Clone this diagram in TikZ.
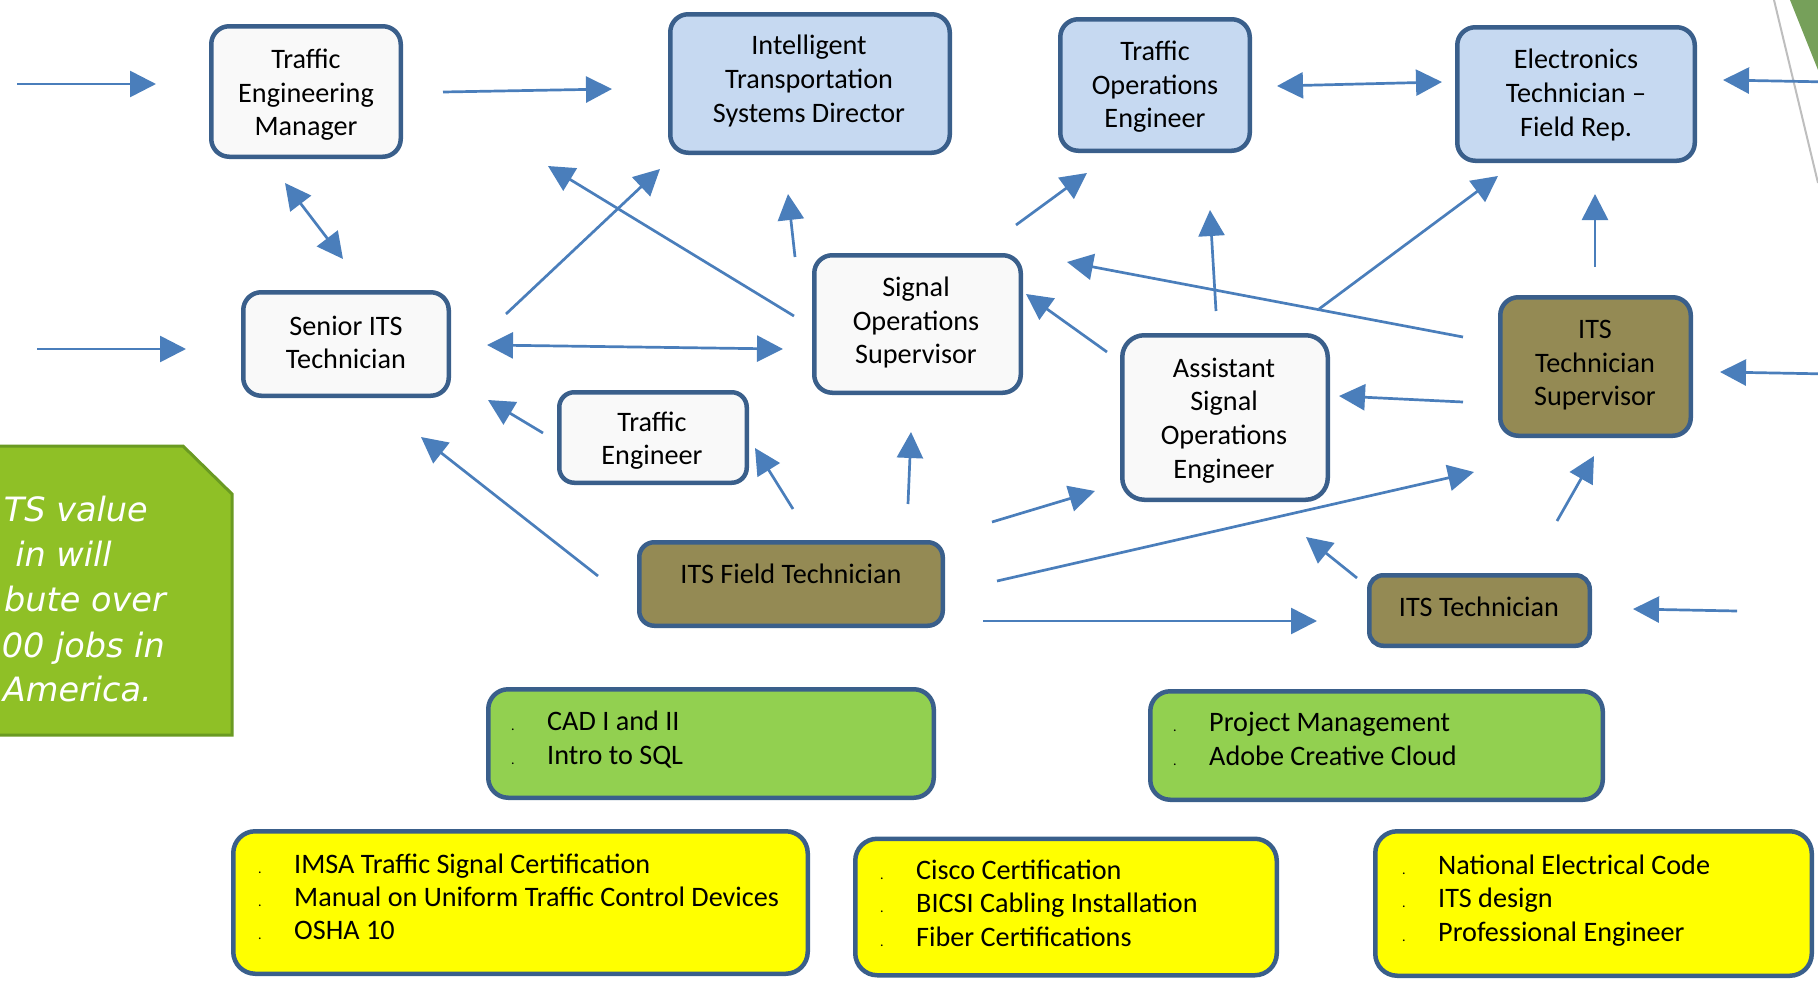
\documentclass[tikz,border=0pt]{standalone}
\usepackage{fontspec}
\setmainfont{Carlito}
\newfontfamily\promofont{DejaVu Sans}
\usetikzlibrary{arrows.meta}
\definecolor{arrowblue}{RGB}{74,126,187}
\definecolor{boxborder}{RGB}{58,95,139}
\definecolor{boxwhite}{RGB}{249,249,249}
\definecolor{boxblue}{RGB}{198,217,241}
\definecolor{boxbrown}{RGB}{148,138,84}
\definecolor{boxgreen}{RGB}{146,208,80}
\definecolor{boxyellow}{RGB}{255,255,0}
\definecolor{promofill}{RGB}{143,192,38}
\definecolor{promoedge}{RGB}{106,154,34}
\definecolor{cornergreen}{RGB}{118,160,90}
\definecolor{cornergray}{RGB}{190,190,190}
\tikzset{
  box/.style={draw=boxborder, line width=4.5pt, rounded corners=18pt, inner sep=0pt},
  lbl/.style={font=\fontsize{28.2}{33.6}\selectfont, align=center, inner sep=0pt},
  itemtxt/.style={font=\fontsize{28.2}{33.6}\selectfont, inner sep=0pt, anchor=base west},
  promotxt/.style={font=\promofont\itshape\fontsize{33.5}{45}\selectfont, text=white, inner sep=0pt, anchor=base east},
  conn/.style={draw=arrowblue, line width=2.7pt, -{Triangle[length=26pt,width=26pt]}},
  conn2/.style={draw=arrowblue, line width=2.7pt, {Triangle[length=26pt,width=26pt]}-{Triangle[length=26pt,width=26pt]}}
}
\newcommand\bdot{\makebox[36pt][l]{\fontsize{14}{14}\selectfont .}}
\begin{document}
\begin{tikzpicture}[x=1pt,y=-1pt]
\useasboundingbox (0,0) rectangle (1818,980);
% corner decoration
\fill[cornergreen] (1790,0) -- (1830,0) -- (1830,100) -- cycle;
\draw[cornergray, line width=2pt] (1774,0) -- (1818,183);
% promo panel
\draw[line width=3pt, draw=promoedge, fill=promofill] (-10,446) -- (183,446) -- (232,494) -- (232,735) -- (-10,735) -- cycle;
\node[promotxt] (p1) at (148,521) {TS value};
\node[promotxt] (p2) at (112,566) {in will};
\node[promotxt] (p3) at (166,611) {bute over};
\node[promotxt] (p4) at (165,657) {00 jobs in};
\node[promotxt] (p5) at (152,701) {America.};

% boxes
\node[box, fill=boxwhite, minimum width=189.5pt, minimum height=130.5pt] (tem) at (306,91.5) {};
\node[box, fill=boxwhite, minimum width=205.5pt, minimum height=103.5pt] (sen) at (346,344) {};
\node[box, fill=boxblue, minimum width=279.5pt, minimum height=138.5pt] (dir) at (810,83.5) {};
\node[box, fill=boxblue, minimum width=189.5pt, minimum height=131.5pt] (toe) at (1155,85) {};
\node[box, fill=boxblue, minimum width=237.5pt, minimum height=133.5pt] (etf) at (1576,94) {};
\node[box, fill=boxwhite, minimum width=206.5pt, minimum height=137.5pt] (sos) at (917.5,324) {};
\node[box, fill=boxwhite, minimum width=187.5pt, minimum height=90.5pt, rounded corners=15pt] (te) at (653,437.5) {};
\node[box, fill=boxwhite, minimum width=205.5pt, minimum height=164.5pt, rounded corners=22pt] (ase) at (1225,417.5) {};
\node[box, fill=boxbrown, minimum width=190.5pt, minimum height=138.5pt] (its) at (1595.5,366.5) {};
\node[box, fill=boxbrown, minimum width=303.5pt, minimum height=83.5pt, rounded corners=15pt] (ft) at (791,584) {};
\node[box, fill=boxbrown, minimum width=220.5pt, minimum height=70.5pt, rounded corners=14pt] (itt) at (1479.5,610.5) {};
\node[box, fill=boxgreen, minimum width=445.5pt, minimum height=108.5pt, rounded corners=20pt] (g1) at (711,743.5) {};
\node[box, fill=boxgreen, minimum width=452.5pt, minimum height=108.5pt, rounded corners=20pt] (g2) at (1376.5,745.5) {};
\node[box, fill=boxyellow, minimum width=574.5pt, minimum height=142.5pt, rounded corners=22pt] (y1) at (520.5,902.5) {};
\node[box, fill=boxyellow, minimum width=421.5pt, minimum height=136.5pt, rounded corners=22pt] (y2) at (1066,907) {};
\node[box, fill=boxyellow, minimum width=436.5pt, minimum height=144.5pt, rounded corners=22pt] (y3) at (1593.5,903.5) {};

% box texts
\node[lbl] (temt) at (306,95) {Traffic\\Engineering\\Manager};
\node[lbl] (dirt) at (809,81) {Intelligent\\Transportation\\Systems Director};
\node[lbl] (toet) at (1155,87) {Traffic\\Operations\\Engineer};
\node[lbl] (etft) at (1576,95) {Electronics\\Technician --\\Field Rep.};
\node[lbl] (sent) at (346,342.5) {Senior ITS\\Technician};
\node[lbl] (sost) at (916,322.5) {Signal\\Operations\\Supervisor};
\node[lbl] (tet) at (652,440.5) {Traffic\\Engineer};
\node[lbl] (aset) at (1224,420.5) {Assistant\\Signal\\Operations\\Engineer};
\node[lbl] (itst) at (1595,365.5) {ITS\\Technician\\Supervisor};
\node[lbl] (ftt) at (791,573.5) {ITS Field Technician};
\node[lbl] (ittt) at (1479,606.5) {ITS Technician};

% list items
\node[itemtxt] (g1a) at (511,730) {\bdot CAD I and II};
\node[itemtxt] (g1b) at (511,764) {\bdot Intro to SQL};
\node[itemtxt] (g2a) at (1173,731) {\bdot Project Management};
\node[itemtxt] (g2b) at (1173,765) {\bdot Adobe Creative Cloud};
\node[itemtxt] (y1a) at (258,873) {\bdot IMSA Traffic Signal Certification};
\node[itemtxt] (y1b) at (258,906) {\bdot Manual on Uniform Traffic Control Devices};
\node[itemtxt] (y1c) at (258,939) {\bdot OSHA 10};
\node[itemtxt] (y2a) at (880,879) {\bdot Cisco Certification};
\node[itemtxt] (y2b) at (880,912) {\bdot BICSI Cabling Installation};
\node[itemtxt] (y2c) at (880,946) {\bdot Fiber Certifications};
\node[itemtxt] (y3a) at (1402,874) {\bdot National Electrical Code};
\node[itemtxt] (y3b) at (1402,907) {\bdot ITS design};
\node[itemtxt] (y3c) at (1402,941) {\bdot Professional Engineer};

% connector end points
\coordinate (c1s) at (17,84);     \coordinate (c1e) at (156,84);
\coordinate (c2s) at (37,349);    \coordinate (c2e) at (186,349);
\coordinate (c3s) at (285,183);   \coordinate (c3e) at (343,259);
\coordinate (c4s) at (443,92);    \coordinate (c4e) at (612,89);
\coordinate (c5s) at (1277,86);   \coordinate (c5e) at (1442,82);
\coordinate (c6s) at (1830,82);   \coordinate (c6e) at (1723,80);
\coordinate (c7s) at (1830,374);  \coordinate (c7e) at (1720,372);
\coordinate (c8s) at (506,314);   \coordinate (c8e) at (660,169);
\coordinate (c9s) at (794,316);   \coordinate (c9e) at (548,166);
\coordinate (c10s) at (795,257);  \coordinate (c10e) at (788,194);
\coordinate (c11s) at (487,345);  \coordinate (c11e) at (783,349);
\coordinate (c12s) at (543,433);  \coordinate (c12e) at (488,400);
\coordinate (c13s) at (793,509);  \coordinate (c13e) at (755,448);
\coordinate (c14s) at (908,504);  \coordinate (c14e) at (911,432);
\coordinate (c15s) at (598,576);  \coordinate (c15e) at (421,437);
\coordinate (c16s) at (1016,225); \coordinate (c16e) at (1087,173);
\coordinate (c17s) at (1107,352); \coordinate (c17e) at (1026,294);
\coordinate (c18s) at (1216,311); \coordinate (c18e) at (1210,210);
\coordinate (c19s) at (1463,337); \coordinate (c19e) at (1067,262);
\coordinate (c20s) at (1319,309); \coordinate (c20e) at (1498,176);
\coordinate (c21s) at (1595,267); \coordinate (c21e) at (1595,194);
\coordinate (c22s) at (1463,402); \coordinate (c22e) at (1339,396);
\coordinate (c23s) at (992,522);  \coordinate (c23e) at (1095,491);
\coordinate (c24s) at (997,581);  \coordinate (c24e) at (1474,472);
\coordinate (c25s) at (983,621);  \coordinate (c25e) at (1317,621);
\coordinate (c26s) at (1357,578); \coordinate (c26e) at (1306,537);
\coordinate (c27s) at (1557,521); \coordinate (c27e) at (1594,456);
\coordinate (c28s) at (1737,611); \coordinate (c28e) at (1633,609);

% connectors
\draw[conn] (c1s) -- (c1e);
\draw[conn] (c2s) -- (c2e);
\draw[conn2] (c3s) -- (c3e);
\draw[conn] (c4s) -- (c4e);
\draw[conn2] (c5s) -- (c5e);
\draw[conn] (c6s) -- (c6e);
\draw[conn] (c7s) -- (c7e);
\draw[conn] (c8s) -- (c8e);
\draw[conn] (c9s) -- (c9e);
\draw[conn] (c10s) -- (c10e);
\draw[conn2] (c11s) -- (c11e);
\draw[conn] (c12s) -- (c12e);
\draw[conn] (c13s) -- (c13e);
\draw[conn] (c14s) -- (c14e);
\draw[conn] (c15s) -- (c15e);
\draw[conn] (c16s) -- (c16e);
\draw[conn] (c17s) -- (c17e);
\draw[conn] (c18s) -- (c18e);
\draw[conn] (c19s) -- (c19e);
\draw[conn] (c20s) -- (c20e);
\draw[conn] (c21s) -- (c21e);
\draw[conn] (c22s) -- (c22e);
\draw[conn] (c23s) -- (c23e);
\draw[conn] (c24s) -- (c24e);
\draw[conn] (c25s) -- (c25e);
\draw[conn] (c26s) -- (c26e);
\draw[conn] (c27s) -- (c27e);
\draw[conn] (c28s) -- (c28e);
\end{tikzpicture}
\end{document}
